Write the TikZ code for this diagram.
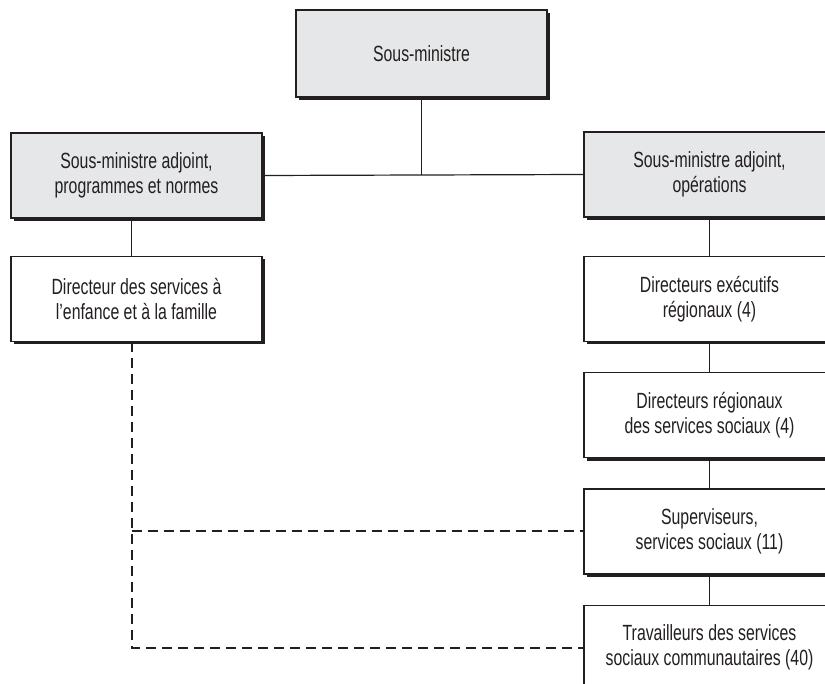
\documentclass[tikz,border=0pt]{standalone}
\usepackage{fontspec}
\setmainfont{Liberation Sans}[FakeStretch=0.72]
\usetikzlibrary{positioning,shadows}
\definecolor{boxgray}{RGB}{230,231,232}
\definecolor{inkblack}{RGB}{35,31,32}

\begin{document}
\begin{tikzpicture}[
  x=0.5pt, y=-0.5pt,
  node distance=15pt and 20pt,
  unit/.style={
    draw=inkblack,
    line width=0.6pt,
    fill=white,
    minimum width=125.5pt,
    minimum height=42.5pt,
    inner sep=0pt,
    align=center,
    text=inkblack,
    font=\fontsize{11}{12.5}\selectfont,
    drop shadow={shadow xshift=1.5pt, shadow yshift=-1.5pt, fill=inkblack, opacity=1}
  },
  headunit/.style={unit, fill=boxgray},
  line/.style={draw=inkblack, line width=0.6pt},
  dotline/.style={draw=inkblack, line width=1pt, dash pattern=on 5pt off 3pt}
]
\useasboundingbox (0,0) rectangle (825,684);
\clip (0,0) rectangle (825,684);

% ===== Top =====
\node[headunit, minimum height=43.5pt] (sm) at (421.5,53.5) {Sous-ministre};

% ===== Deputies =====
\node[headunit] (adjpn) at (136.5,175.5) {Sous-ministre adjoint,\\programmes et normes};
\node[headunit] (adjop) at (709.5,174.5) {Sous-ministre adjoint,\\opérations};

% ===== Left branch =====
\node[unit] (dirsef) at (136.5,299) {Directeur des services à\\l’enfance et à la famille};
\coordinate (leftdrop) at ([xshift=-2.5pt]dirsef.south);

% ===== Right branch =====
\node[unit] (direx) at (709.5,299) {Directeurs exécutifs\\régionaux (4)};
\node[unit, below=of direx] (dirreg) {Directeurs régionaux\\des services sociaux (4)};
\node[unit, below=of dirreg] (superv) {Superviseurs,\\services sociaux (11)};
\node[unit, below=of superv] (travail) {Travailleurs des services\\sociaux communautaires (40)};

% solid links
\draw[line] (sm.south) -- (sm.south |- adjpn.east);
\draw[line] (adjpn.east) -- (adjop.west);
\draw[line] ([xshift=-2.5pt]adjpn.south) -- ([xshift=-2.5pt]dirsef.north);
\draw[line] (adjop.south) -- (direx.north);
\draw[line] (direx.south) -- (dirreg.north);
\draw[line] (dirreg.south) -- (superv.north);
\draw[line] (superv.south) -- (travail.north);

% dashed links
\draw[dotline] (leftdrop) -- (leftdrop |- travail.west) -- (travail.west);
\draw[dotline] (leftdrop |- superv.west) -- (superv.west);

\end{tikzpicture}
\end{document}
